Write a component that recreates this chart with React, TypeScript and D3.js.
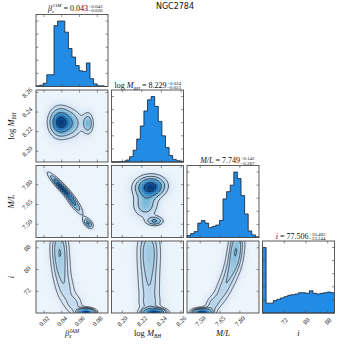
import React, { useMemo } from "react";
import * as d3 from "d3";

const W = 349;
const H = 349;
const LEFT = 36;
const TOP = 14.5;
const SIZE = 72;
const GAP = 3.5;
const SERIF = "'Liberation Serif', 'DejaVu Serif', serif";

// axis limits
const betaRange = [0.011, 0.092];
const mbhRange = [8.189, 8.2625];
const mlRange = [7.4, 7.945];
const incRange = [64.0, 90.5];

const betaTicks = [0.02, 0.04, 0.06, 0.08];
const mbhTicks = [8.2, 8.22, 8.24, 8.26];
const mlTicks = [7.5, 7.65, 7.8];
const incTicks = [72, 80, 88];

const betaTickLabels = ["0.02", "0.04", "0.06", "0.08"];
const mbhTickLabels = ["8.20", "8.22", "8.24", "8.26"];
const mlTickLabels = ["7.50", "7.65", "7.80"];
const incTickLabels = ["72", "80", "88"];

// marginal histograms, 20 bins over each range (relative counts)
const betaHist = [1, 2, 5, 18, 18, 93, 100, 100, 83, 58, 45, 32, 24, 23, 36, 12, 4, 1, 1, 0];
const mbhHist = [0, 0, 0.5, 1, 3, 8, 18, 35, 55, 78, 95, 100, 85, 62, 40, 22, 10, 4, 2, 1];
const mlHist = [3, 6, 9, 22, 26, 22, 15, 17, 19, 26, 59, 70, 80, 100, 90, 64, 36, 10, 4, 1];
const incHist = [100, 15, 15, 19, 21, 23, 25, 27, 28, 29, 31, 31, 30, 34, 30, 29, 30, 31, 32, 31];

// median, +err, -err for the titles
const betaStat = ["0.043", "+0.043", "\u22120.026"];
const mbhStat = ["8.229", "+0.024", "\u22120.023"];
const mlStat = ["7.749", "+0.142", "\u22120.287"];
const incStat = ["77.506", "+10.482", "\u221213.244"];

// 2d posteriors as blobs: [x, y, sx, sy, rho, weight]
const betaMbhBlobs = [
  [0.038, 8.2295, 0.0075, 0.009, 0.0, 0.6],
  [0.052, 8.2285, 0.0075, 0.009, 0.0, 0.24],
  [0.0695, 8.2285, 0.004, 0.007, 0.0, 0.12],
];
const betaMlBlobs = [
  [0.04, 7.78, 0.0085, 0.06, -0.93, 0.55],
  [0.054, 7.655, 0.006, 0.05, -0.85, 0.25],
  [0.0695, 7.51, 0.0035, 0.025, -0.5, 0.14],
];
const mbhMlBlobs = [
  [8.2285, 7.785, 0.0095, 0.05, 0.05, 0.6],
  [8.2235, 7.645, 0.008, 0.06, 0.0, 0.26],
  [8.233, 7.525, 0.0055, 0.022, 0.0, 0.08],
];
const betaIncBlobs = [
  [0.037, 90, 0.0068, 4.0, 0.0, 0.2],
  [0.038, 84, 0.0068, 4.0, 0.0, 0.18],
  [0.04, 78, 0.007, 4.0, 0.0, 0.16],
  [0.045, 72, 0.0072, 3.5, 0.0, 0.13],
  [0.054, 67, 0.0068, 2.5, 0.0, 0.1],
  [0.0675, 64.3, 0.006, 0.9, 0.0, 0.17],
];
const mbhIncBlobs = [
  [8.227, 90, 0.0078, 4.0, 0.0, 0.2],
  [8.227, 84, 0.0078, 4.0, 0.0, 0.18],
  [8.227, 78, 0.0078, 4.0, 0.0, 0.16],
  [8.2275, 72, 0.008, 3.5, 0.0, 0.13],
  [8.228, 67, 0.008, 2.5, 0.0, 0.1],
  [8.2325, 64.3, 0.0075, 0.9, 0.0, 0.17],
];
const mlIncBlobs = [
  [7.78, 90, 0.04, 4.0, 0.0, 0.2],
  [7.76, 84, 0.04, 4.0, 0.0, 0.18],
  [7.72, 78, 0.042, 4.0, 0.2, 0.16],
  [7.665, 72, 0.042, 3.5, 0.3, 0.13],
  [7.59, 67, 0.04, 2.5, 0.3, 0.1],
  [7.51, 64.3, 0.045, 0.9, 0.0, 0.17],
];

// corner's default sigma levels (0.5,1,1.5,2 sigma)
const LEVELS = [0.118, 0.393, 0.675, 0.865];

const dims = [
  { range: betaRange, ticks: betaTicks, labels: betaTickLabels, hist: betaHist, stat: betaStat },
  { range: mbhRange, ticks: mbhTicks, labels: mbhTickLabels, hist: mbhHist, stat: mbhStat },
  { range: mlRange, ticks: mlTicks, labels: mlTickLabels, hist: mlHist, stat: mlStat },
  { range: incRange, ticks: incTicks, labels: incTickLabels, hist: incHist, stat: incStat },
];

const pairs = [
  { row: 1, col: 0, blobs: betaMbhBlobs },
  { row: 2, col: 0, blobs: betaMlBlobs },
  { row: 2, col: 1, blobs: mbhMlBlobs },
  { row: 3, col: 0, blobs: betaIncBlobs },
  { row: 3, col: 1, blobs: mbhIncBlobs },
  { row: 3, col: 2, blobs: mlIncBlobs },
];

// x offset of the +/- stack relative to the panel centre
const titleSplit = [16, 19, 17, 10];

const px = (j) => LEFT + j * (SIZE + GAP);
const py = (i) => TOP + i * (SIZE + GAP);

function blobDensity(x, y, blobs) {
  let s = 0;
  for (const [mx, my, sx, sy, r, w] of blobs) {
    const dx = (x - mx) / sx;
    const dy = (y - my) / sy;
    const q = (dx * dx - 2 * r * dx * dy + dy * dy) / (1 - r * r);
    s += (w * Math.exp(-0.5 * q)) / (2 * Math.PI * sx * sy * Math.sqrt(1 - r * r));
  }
  return s;
}

// tspans for a parameter name and the net vertical shift they leave behind
function nameSpans(k, s) {
  const small = s * 0.62;
  if (k === 0) {
    return {
      spans: [
        <tspan key="a" fontStyle="italic">β</tspan>,
        <tspan key="b" fontSize={small} dy={s * 0.25} fontStyle="italic">z</tspan>,
        <tspan key="c" fontSize={small} dx={-s * 0.24} dy={-s * 0.65} fontStyle="italic">JAM</tspan>,
      ],
      net: -s * 0.4,
    };
  }
  if (k === 1) {
    return {
      spans: [
        <tspan key="a">log </tspan>,
        <tspan key="b" fontStyle="italic">M</tspan>,
        <tspan key="c" fontSize={small} dy={s * 0.25} fontStyle="italic">BH</tspan>,
      ],
      net: s * 0.25,
    };
  }
  if (k === 2) return { spans: [<tspan key="a" fontStyle="italic">M/L</tspan>], net: 0 };
  return { spans: [<tspan key="a" fontStyle="italic">i</tspan>], net: 0 };
}

function Panel2D({ row, col, blobs }) {
  const x0 = px(col);
  const y0 = py(row);
  const xr = dims[col].range;
  const yr = dims[row].range;
  const n = 72;
  const pad = 4;
  const N = n + 2 * pad;

  const { cells, contours } = useMemo(() => {
    const vals = new Array(N * N);
    for (let j = 0; j < N; j++) {
      const y = yr[1] - ((j - pad + 0.5) / n) * (yr[1] - yr[0]);
      for (let i = 0; i < N; i++) {
        const x = xr[0] + ((i - pad + 0.5) / n) * (xr[1] - xr[0]);
        vals[j * N + i] = blobDensity(x, y, blobs);
      }
    }
    const inner = [];
    for (let j = pad; j < pad + n; j++)
      for (let i = pad; i < pad + n; i++) inner.push(vals[j * N + i]);
    const sorted = inner.slice().sort((a, b) => b - a);
    const total = d3.sum(sorted);
    const th = LEVELS.map((L) => {
      let c = 0;
      for (let k = 0; k < sorted.length; k++) {
        c += sorted[k];
        if (c / total >= L) return sorted[k];
      }
      return sorted[sorted.length - 1];
    }).sort((a, b) => a - b);
    const vmax = d3.max(inner);

    // shading in 2px blocks
    const M = 36;
    const color = (t) => d3.interpolateBlues(0.05 + 0.93 * t);
    const cells = [];
    for (let bj = 0; bj < M; bj++) {
      for (let bi = 0; bi < M; bi++) {
        const i = pad + bi * 2;
        const j = pad + bj * 2;
        const v = (vals[j * N + i] + vals[j * N + i + 1] + vals[(j + 1) * N + i] + vals[(j + 1) * N + i + 1]) / 4;
        cells.push({ x: x0 + bi * 2, y: y0 + bj * 2, fill: color(v / vmax) });
      }
    }
    const contours = d3.contours().size([N, N]).thresholds(th)(vals);
    return { cells, contours };
  }, [row, col]);

  const path = d3.geoPath(
    d3.geoIdentity().scale(SIZE / n).translate([x0 - (pad * SIZE) / n, y0 - (pad * SIZE) / n])
  );
  const clipId = `clip-${row}-${col}`;

  return (
    <g>
      <clipPath id={clipId}>
        <rect x={x0} y={y0} width={SIZE} height={SIZE} />
      </clipPath>
      <g clipPath={`url(#${clipId})`}>
        <g shapeRendering="crispEdges">
          {cells.map((c, k) => (
            <rect key={k} x={c.x} y={c.y} width={2} height={2} fill={c.fill} />
          ))}
        </g>
        {contours.map((c, k) => (
          <path key={k} d={path(c)} fill="none" stroke="#1c1c24" strokeWidth={0.7} />
        ))}
      </g>
    </g>
  );
}

function Hist({ k }) {
  const x0 = px(k);
  const y0 = py(k);
  const dim = dims[k];
  const xs = d3.scaleLinear().domain(dim.range).range([x0, x0 + SIZE]);
  const ys = d3.scaleLinear().domain([0, d3.max(dim.hist) * 1.1]).range([y0 + SIZE, y0]);
  const nb = dim.hist.length;
  const edges = d3.range(nb + 1).map((b) => dim.range[0] + (b * (dim.range[1] - dim.range[0])) / nb);
  let d = `M${xs(edges[0])},${ys(0)}`;
  dim.hist.forEach((h, b) => {
    d += `L${xs(edges[b])},${ys(h)}L${xs(edges[b + 1])},${ys(h)}`;
  });
  d += `L${xs(edges[nb])},${ys(0)}Z`;
  return (
    <g>
      <path d={d} fill="#228be6" stroke="#14202e" strokeWidth={0.8} />
      {ys.ticks(5).map((t, i) => (
        <g key={i} stroke="#444" strokeWidth={0.6}>
          <line x1={x0} x2={x0 + 2.5} y1={ys(t)} y2={ys(t)} />
          <line x1={x0 + SIZE} x2={x0 + SIZE - 2.5} y1={ys(t)} y2={ys(t)} />
        </g>
      ))}
    </g>
  );
}

function Title({ k }) {
  const s = 8;
  const cx = px(k) + SIZE / 2 + titleSplit[k];
  const base = py(k) - (k === 0 ? 4 : 2.5);
  const { spans, net } = nameSpans(k, s);
  const [med, up, lo] = dims[k].stat;
  return (
    <g fontFamily={SERIF} fill="#111">
      <text x={cx} y={base} fontSize={s} textAnchor="end">
        {spans}
        <tspan dy={-net}>{` = ${med}`}</tspan>
      </text>
      <text x={cx + 0.4} y={base - 3} fontSize={5}>{up}</text>
      <text x={cx + 0.4} y={base + 1.8} fontSize={5}>{lo}</text>
    </g>
  );
}

export default function App() {
  const frames = [];
  for (let r = 0; r < 4; r++) for (let c = 0; c <= r; c++) frames.push({ r, c });

  return (
    <div style={{ position: "absolute", left: 0, top: 0 }}>
      <svg width={W} height={H} viewBox={`0 0 ${W} ${H}`} style={{ display: "block", background: "#fff" }}>
        <text x={175} y={9} fontFamily="'DejaVu Sans', sans-serif" fontSize={8} textAnchor="middle" fill="#111">
          NGC2784
        </text>

        {pairs.map((p) => (
          <Panel2D key={`${p.row}-${p.col}`} {...p} />
        ))}
        {dims.map((_, k) => (
          <Hist key={k} k={k} />
        ))}

        {frames.map(({ r, c }) => {
          const x0 = px(c);
          const y0 = py(r);
          const xs = d3.scaleLinear().domain(dims[c].range).range([x0, x0 + SIZE]);
          const ys = d3.scaleLinear().domain(dims[r].range).range([y0 + SIZE, y0]);
          return (
            <g key={`f${r}${c}`}>
              <g stroke="#444" strokeWidth={0.6}>
                {dims[c].ticks.map((t, i) => (
                  <g key={i}>
                    <line x1={xs(t)} x2={xs(t)} y1={y0 + SIZE} y2={y0 + SIZE - 2.5} />
                    <line x1={xs(t)} x2={xs(t)} y1={y0} y2={y0 + 2.5} />
                  </g>
                ))}
                {r !== c &&
                  dims[r].ticks.map((t, i) => (
                    <g key={i}>
                      <line x1={x0} x2={x0 + 2.5} y1={ys(t)} y2={ys(t)} />
                      <line x1={x0 + SIZE} x2={x0 + SIZE - 2.5} y1={ys(t)} y2={ys(t)} />
                    </g>
                  ))}
              </g>
              <rect x={x0} y={y0} width={SIZE} height={SIZE} fill="none" stroke="#4a4a4a" strokeWidth={0.9} />
            </g>
          );
        })}

        {/* bottom tick labels */}
        {dims.map((dim, c) => {
          const xs = d3.scaleLinear().domain(dim.range).range([px(c), px(c) + SIZE]);
          return dim.ticks.map((t, i) => (
            <text
              key={`xl${c}${i}`}
              transform={`translate(${xs(t)},${py(3) + SIZE + 8}) rotate(-45)`}
              textAnchor="middle"
              dominantBaseline="central"
              fontFamily={SERIF}
              fontSize={6.5}
              fill="#111"
            >
              {dim.labels[i]}
            </text>
          ));
        })}

        {/* left tick labels */}
        {dims.slice(1).map((dim, k) => {
          const r = k + 1;
          const ys = d3.scaleLinear().domain(dim.range).range([py(r) + SIZE, py(r)]);
          return dim.ticks.map((t, i) => (
            <text
              key={`yl${r}${i}`}
              transform={`translate(${LEFT - 9},${ys(t)}) rotate(-45)`}
              textAnchor="middle"
              dominantBaseline="central"
              fontFamily={SERIF}
              fontSize={6.5}
              fill="#111"
            >
              {dim.labels[i]}
            </text>
          ));
        })}

        {/* axis names */}
        {dims.map((_, c) => (
          <text
            key={`xn${c}`}
            x={px(c) + SIZE / 2}
            y={336}
            textAnchor="middle"
            fontFamily={SERIF}
            fontSize={8.5}
            fill="#111"
          >
            {nameSpans(c, 8.5).spans}
          </text>
        ))}
        {[1, 2, 3].map((r) => (
          <text
            key={`yn${r}`}
            transform={`translate(14,${py(r) + SIZE / 2}) rotate(-90)`}
            textAnchor="middle"
            fontFamily={SERIF}
            fontSize={8.5}
            fill="#111"
          >
            {nameSpans(r, 8.5).spans}
          </text>
        ))}

        {dims.map((_, k) => (
          <Title key={`t${k}`} k={k} />
        ))}
      </svg>
    </div>
  );
}
